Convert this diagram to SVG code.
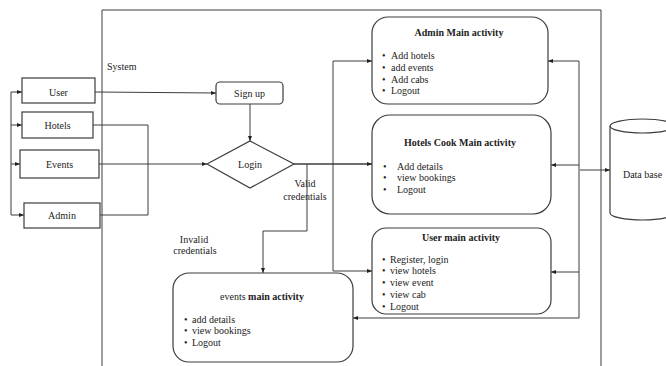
<svg xmlns="http://www.w3.org/2000/svg" width="666" height="366" viewBox="0 0 666 366">
<defs>
<marker id="arr" viewBox="0 0 10 10" refX="10" refY="5" markerWidth="5" markerHeight="5" orient="auto" markerUnits="userSpaceOnUse">
<path d="M0,1 L10,5 L0,9 z" fill="#222"/>
</marker>
<style>
text{font-family:"Liberation Serif","Times New Roman",serif;font-size:10px;fill:#222}
.c{text-anchor:middle}
.b{font-weight:bold}
.box{fill:#fff;stroke:#3c3c3c;stroke-width:1.2}
.ln{fill:none;stroke:#3c3c3c;stroke-width:1}
.a{marker-end:url(#arr)}
</style>
</defs>
<rect width="666" height="366" fill="#fff"/>
<g id="system-frame">
<path class="ln" d="M102,366 V10 H601 V366"/>
<text x="107" y="70">System</text>
</g>
<g id="connectors">
<path class="ln" d="M11,92 V215"/>
<path class="ln a" d="M11,92 H22"/>
<path class="ln a" d="M11,125 H22"/>
<path class="ln a" d="M11,164 H20"/>
<path class="ln a" d="M11,215 H24"/>
<path class="ln a" d="M95,92 L216,93"/>
<path class="ln" d="M93,125 H148 V215 H100"/>
<path class="ln a" d="M99,164 H207"/>
<path class="ln a" d="M250,104 V141"/>
<path class="ln a" d="M294,164 H372" style="stroke-width:1.3"/>
<path class="ln a" d="M333,164 V61 H372"/>
<path class="ln a" d="M333,164 V271 H372"/>
<path class="ln a" d="M307,164 V231 H263 V273"/>
<path class="ln" d="M579,61 V318"/>
<path class="ln a" d="M579,61 H548"/>
<path class="ln a" d="M579,165 H551"/>
<path class="ln a" d="M579,272 H551"/>
<path class="ln a" d="M579,318 H353"/>
<path class="ln a" d="M580,170 H610"/>
<text class="c" x="305" y="187">Valid</text>
<text class="c" x="305" y="199.5">credentials</text>
<text class="c" x="194" y="242.5">Invalid</text>
<text class="c" x="195" y="254">credentials</text>
</g>
<g id="user">
<rect class="box" x="22" y="78" width="73" height="25"/>
<text class="c" x="58.5" y="95.5">User</text>
</g>
<g id="hotels">
<rect class="box" x="22" y="112" width="71" height="26"/>
<text class="c" x="57.5" y="128.5">Hotels</text>
</g>
<g id="events">
<rect class="box" x="20" y="150" width="79" height="28"/>
<text class="c" x="59.5" y="167.5">Events</text>
</g>
<g id="admin">
<rect class="box" x="24" y="203" width="76" height="25"/>
<text class="c" x="62" y="218.5">Admin</text>
</g>
<g id="signup">
<rect class="box" x="216" y="82" width="67" height="22" rx="4"/>
<text class="c" x="249.5" y="96.5">Sign up</text>
</g>
<g id="login">
<path class="box" d="M207,164 L250,141 L294,164 L250,188 z"/>
<text class="c" x="250" y="167.5">Login</text>
</g>
<g id="admin-main">
<rect class="box" x="372" y="17" width="176" height="87" rx="16"/>
<text class="c b" x="459" y="36">Admin Main activity</text>
<text x="382" y="59">•</text><text x="391" y="59">Add hotels</text>
<text x="382" y="71">•</text><text x="391" y="71">add events</text>
<text x="382" y="82.5">•</text><text x="391" y="82.5">Add cabs</text>
<text x="382" y="94">•</text><text x="391" y="94">Logout</text>
</g>
<g id="hotels-main">
<rect class="box" x="372" y="115" width="179" height="99" rx="18"/>
<text class="c b" x="460" y="145.5">Hotels Cook Main activity</text>
<text x="383" y="169.5">•</text><text x="397" y="169.5">Add details</text>
<text x="383" y="181">•</text><text x="397" y="181">view bookings</text>
<text x="383" y="192.5">•</text><text x="397" y="192.5">Logout</text>
</g>
<g id="user-main">
<rect class="box" x="372" y="228" width="179" height="86" rx="14"/>
<text class="c b" x="461" y="240.5">User main activity</text>
<text x="382" y="262.5">•</text><text x="390" y="262.5">Register, login</text>
<text x="382" y="274">•</text><text x="390" y="274">view hotels</text>
<text x="382" y="285.5">•</text><text x="390" y="285.5">view event</text>
<text x="382" y="297.5">•</text><text x="390" y="297.5">view cab</text>
<text x="382" y="309.5">•</text><text x="390" y="309.5">Logout</text>
</g>
<g id="events-main">
<rect class="box" x="173" y="273" width="180" height="89" rx="16"/>
<text class="c" x="262" y="299.5">events <tspan class="b">main activity</tspan></text>
<text x="184" y="322.5">•</text><text x="192" y="322.5">add details</text>
<text x="184" y="333.5">•</text><text x="192" y="333.5">view bookings</text>
<text x="184" y="345.5">•</text><text x="192" y="345.5">Logout</text>
</g>
<g id="database">
<path class="box" d="M610,126 V213 A32.5,7 0 0 0 675,213 V126"/>
<ellipse class="box" cx="642.5" cy="126" rx="32.5" ry="7"/>
<text class="c" x="642.5" y="177.5">Data base</text>
</g>
</svg>
